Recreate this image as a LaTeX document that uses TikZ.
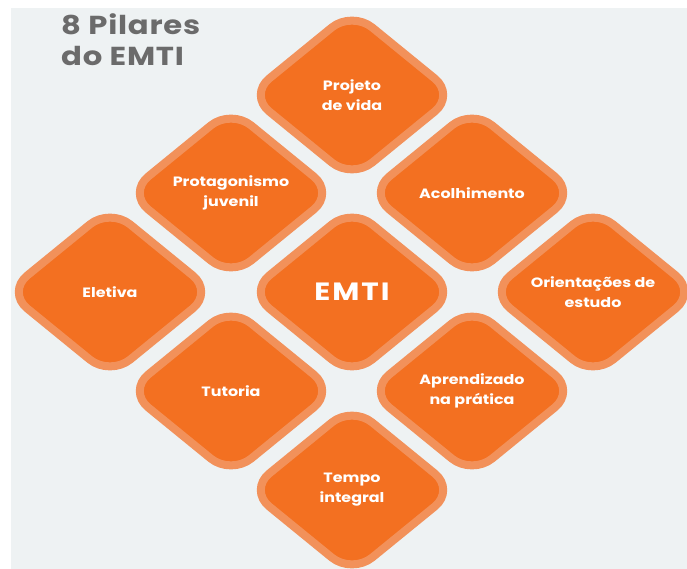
\documentclass[tikz,border=0pt]{standalone}
\usepackage{fontspec}
\setmainfont{Poppins}[FakeStretch=1.18]
\definecolor{pillarfill}{HTML}{F37021}
\definecolor{pillarrim}{HTML}{F2915A}
\definecolor{canvasgray}{HTML}{EEF2F3}
\definecolor{titlegray}{HTML}{6B6B6B}
\tikzset{
  pillarshape/.style={draw=pillarrim, fill=pillarfill, line width=8pt, rounded corners=26pt},
  pillartext/.style={text=white, font=\bfseries\fontsize{13.5}{20}\selectfont, align=center, inner sep=0pt},
  hubtext/.style={text=white, font=\bfseries\fontsize{25}{30}\selectfont\addfontfeature{LetterSpace=8}, inner sep=0pt},
  titletext/.style={text=titlegray, font=\bfseries\fontsize{26}{31}\selectfont\addfontfeature{LetterSpace=3}, inner sep=0pt, anchor=base west},
}
% rounded diamond centred at (#3,#4) with a named text node on top
\newcommand\pillar[5][pillartext]{%
  \path[pillarshape] (#3+51.5,#4-42) -- (#3,#4-84) -- (#3-103,#4) -- (#3,#4+84) -- (#3+103,#4) -- cycle;
  \node[#1] (#2) at (#3,#4) {#5};
}
\begin{document}
\begin{tikzpicture}[x=1pt,y=-1pt]
  \useasboundingbox (0,0) rectangle (687,569);
  \fill[white] (0,0) rectangle (687,569);
  \fill[canvasgray] (11,8) rectangle (687,569);

  \node[titletext] (title1) at (61,35) {8 Pilares};
  \node[titletext] (title2) at (61,66) {do EMTI};

  \pillar{proj}{352}{95}{Projeto\\de vida}
  \pillar{prot}{231}{193}{Protagonismo\\juvenil}
  \pillar{acol}{472}{193}{Acolhimento}
  \pillar{elet}{110}{292}{Eletiva}
  \pillar[hubtext]{emti}{352}{292}{EMTI}
  \pillar{orie}{593}{292}{Orientações de\\estudo}
  \pillar{tuto}{231}{391}{Tutoria}
  \pillar{apre}{472}{391}{Aprendizado\\na prática}
  \pillar{temp}{352}{490}{Tempo\\integral}
\end{tikzpicture}
\end{document}
